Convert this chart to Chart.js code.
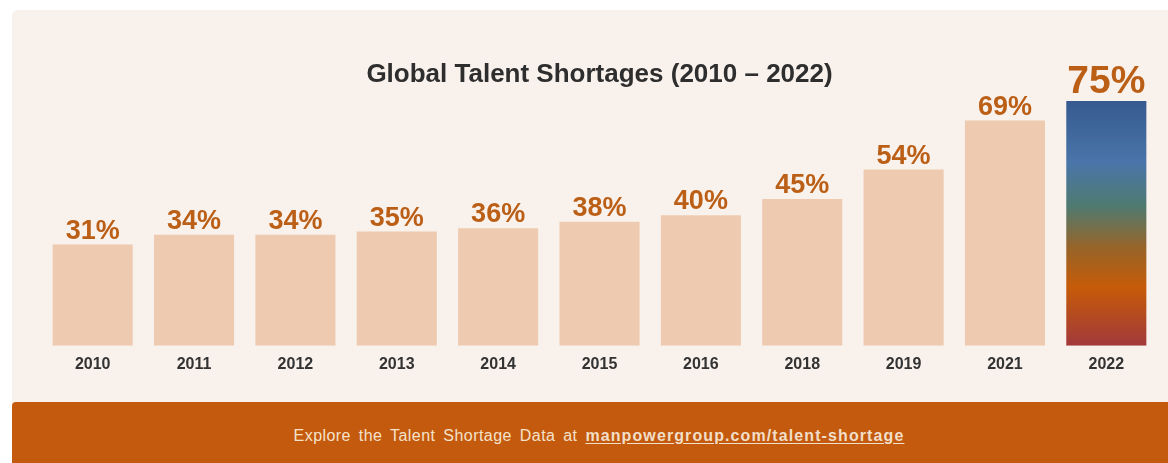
<!DOCTYPE html>
<html>
<head>
<meta charset="utf-8">
<script src="https://cdn.jsdelivr.net/npm/chart.js@4/dist/chart.umd.min.js"></script>
<style>
  html, body { margin: 0; padding: 0; background: #ffffff; }
  #wrap { position: relative; width: 1168px; height: 463px; overflow: hidden; background: #ffffff; }
  #panel { position: absolute; left: 12px; top: 10px; right: 0; height: 400px; background: #f9f1ec; border-radius: 6px 0 0 0; }
  #chart { position: absolute; left: 0; top: 0; }
  #footer { position: absolute; left: 12px; top: 402px; right: 0; bottom: 0; background: #c45a0d; border-radius: 4px 0 0 0;
            color: #f4e2cb; font-family: "Liberation Sans", Arial, sans-serif; font-size: 16px; letter-spacing: 0.45px;
            word-spacing: 3px; text-align: center; line-height: 68px; white-space: nowrap; padding-left: 18px; }
  #footer b { text-decoration: underline; text-underline-offset: 2px; letter-spacing: 1.1px; word-spacing: 0;
              color: #f1dfc9; }
</style>
</head>
<body>
<div id="wrap">
  <div id="panel"></div>
  <canvas id="chart" width="1168" height="463"></canvas>
  <div id="footer">Explore the Talent Shortage Data at <b>manpowergroup.com/talent-shortage</b></div>
</div>
<script>
// Survey years and the share of employers reporting difficulty filling roles (%)
const years = ['2010', '2011', '2012', '2013', '2014', '2015', '2016', '2018', '2019', '2021', '2022'];
const shortagePct = [31, 34, 34, 35, 36, 38, 40, 45, 54, 69, 75];
const highlightYear = '2022';

const baseBarColor = '#eecbb0';
const labelColor = '#bb5f17';
const fontFamily = '"Liberation Sans", Arial, Helvetica, sans-serif';

// Vertical gradient for the latest year's bar, spanning its own top to the baseline
function highlightGradient(ctx) {
  const chart = ctx.chart;
  const yScale = chart.scales.y;
  if (!yScale || !chart.chartArea) return '#4a75aa';
  const top = yScale.getPixelForValue(ctx.raw);
  const bottom = yScale.getPixelForValue(0);
  const g = chart.ctx.createLinearGradient(0, top, 0, bottom);
  g.addColorStop(0.00, '#365a8f');
  g.addColorStop(0.25, '#4a75aa');
  g.addColorStop(0.43, '#4f7a70');
  g.addColorStop(0.60, '#976428');
  g.addColorStop(0.76, '#c65b08');
  g.addColorStop(1.00, '#a2393b');
  return g;
}

// Percentage labels above each bar; the highlighted year gets a larger label
const valueLabels = {
  id: 'valueLabels',
  afterDatasetsDraw(chart) {
    const { ctx } = chart;
    const meta = chart.getDatasetMeta(0);
    ctx.save();
    ctx.fillStyle = labelColor;
    ctx.textAlign = 'center';
    ctx.textBaseline = 'alphabetic';
    meta.data.forEach((bar, i) => {
      const big = years[i] === highlightYear;
      ctx.font = `bold ${big ? 39 : 27}px ${fontFamily}`;
      ctx.fillText(shortagePct[i] + '%', bar.x, bar.y - (big ? 8 : 6));
    });
    ctx.restore();
  }
};

new Chart(document.getElementById('chart'), {
  type: 'bar',
  data: {
    labels: years,
    datasets: [{
      data: shortagePct,
      backgroundColor: (ctx) => years[ctx.dataIndex] === highlightYear ? highlightGradient(ctx) : baseBarColor,
      borderWidth: 0,
      barPercentage: 0.79,
      categoryPercentage: 1.0
    }]
  },
  options: {
    responsive: false,
    devicePixelRatio: 1,
    animation: false,
    layout: { padding: { left: 42, right: 11, top: 0, bottom: 80 } },
    plugins: {
      legend: { display: false },
      tooltip: { enabled: false },
      title: {
        display: true,
        text: 'Global Talent Shortages (2010 – 2022)',
        color: '#2e2e2e',
        font: { family: fontFamily, size: 26, weight: 'bold' },
        padding: { top: 59, bottom: 0 }
      }
    },
    scales: {
      x: {
        grid: { display: false, drawTicks: false },
        border: { display: false },
        ticks: {
          color: '#333333',
          padding: 9,
          font: { family: fontFamily, size: 16, weight: 'bold' }
        }
      },
      y: {
        display: false,
        min: 0,
        max: 78.3
      }
    }
  },
  plugins: [valueLabels]
});
</script>
</body>
</html>
